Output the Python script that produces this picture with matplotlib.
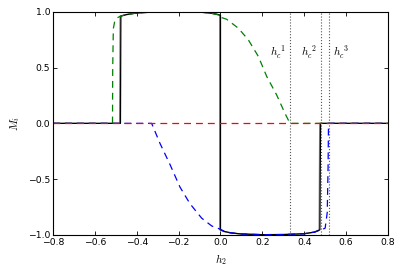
import matplotlib
matplotlib.use("Agg")
from matplotlib import pyplot as plt

plt.rcParams['mathtext.fontset'] = 'cm'

# black: M_1
h_black = [-0.8, -0.478, -0.476, -0.45, -0.4, -0.35, -0.3, -0.2, -0.1, -0.05, -0.02, 0.0,
           0.0, 0.02, 0.05, 0.1, 0.2, 0.3, 0.4, 0.45, 0.475, 0.478, 0.8]
m_black = [0.0, 0.0, 0.962, 0.975, 0.99, 0.996, 0.999, 1.0, 0.998, 0.99, 0.98, 0.97,
           -0.955, -0.97, -0.982, -0.992, -0.998, -0.997, -0.99, -0.975, -0.955, 0.0, 0.0]

# green: M_2
h_green = [-0.8, -0.516, -0.515, -0.512, -0.505, -0.49, -0.477, -0.45, -0.4, -0.3, -0.2,
           -0.1, -0.05, 0.0, 0.003, 0.029, 0.085, 0.133, 0.181, 0.221, 0.268, 0.308, 0.332, 0.8]
m_green = [0.0, 0.0, 0.5, 0.85, 0.92, 0.95, 0.962, 0.975, 0.99, 0.999, 1.0,
           0.998, 0.99, 0.97, 0.95, 0.934, 0.854, 0.749, 0.60, 0.42, 0.256, 0.09, 0.0, 0.0]

# blue: M_3
h_blue = [-0.8, -0.329, -0.289, -0.241, -0.194, -0.146, -0.09, -0.042, 0.0, 0.02, 0.05,
          0.1, 0.2, 0.3, 0.4, 0.45, 0.48, 0.5, 0.51, 0.514, 0.516, 0.8]
m_blue = [0.0, 0.0, -0.18, -0.37, -0.57, -0.72, -0.85, -0.92, -0.95, -0.97, -0.982,
          -0.992, -0.998, -0.997, -0.99, -0.975, -0.955, -0.94, -0.8, -0.4, 0.0, 0.0]

# red: M_4
h_red = [-0.8, 0.8]
m_red = [0.0, 0.0]

# critical fields
h_crit = [0.333, 0.481, 0.519]
crit_labels = [r'$h_c^{\ 1}$', r'$h_c^{\ 2}$', r'$h_c^{\ 3}$']
label_x = [0.275, 0.423, 0.575]

fig = plt.figure(figsize=(4.02, 2.76), dpi=100)
ax = fig.add_axes([0.132, 0.149, 0.833, 0.808])

dash = (5.5, 4)
ax.plot([h - 0.004 for h in h_black], m_black, color='#888888', lw=0.9)
ax.plot(h_black, m_black, color='black', lw=0.9)
ax.plot(h_green, m_green, color='green', lw=0.9, ls='--', dashes=dash)
ax.plot(h_blue, m_blue, color='blue', lw=0.9, ls='--', dashes=dash)
ax.plot(h_red, m_red, color='red', lw=0.9, ls='--', dashes=dash)

for hc, lab, lx in zip(h_crit, crit_labels, label_x):
    ax.axvline(hc, color='#555555', lw=0.8, ls=':')
    ax.text(lx, 0.64, lab, fontsize=8, ha='center', va='center')

ax.set_xlim(-0.8, 0.8)
ax.set_ylim(-1.0, 1.0)
ax.set_xticks([-0.8, -0.6, -0.4, -0.2, 0.0, 0.2, 0.4, 0.6, 0.8])
ax.set_yticks([-1.0, -0.5, 0.0, 0.5, 1.0])
ax.tick_params(direction='in', top=True, right=True, length=3, width=0.6,
               labelsize=6.7, pad=2)
ax.set_xlabel(r'$h_2$', fontsize=8)
ax.set_ylabel(r'$M_i$', fontsize=8)

fig.savefig('out.png', dpi=100)
